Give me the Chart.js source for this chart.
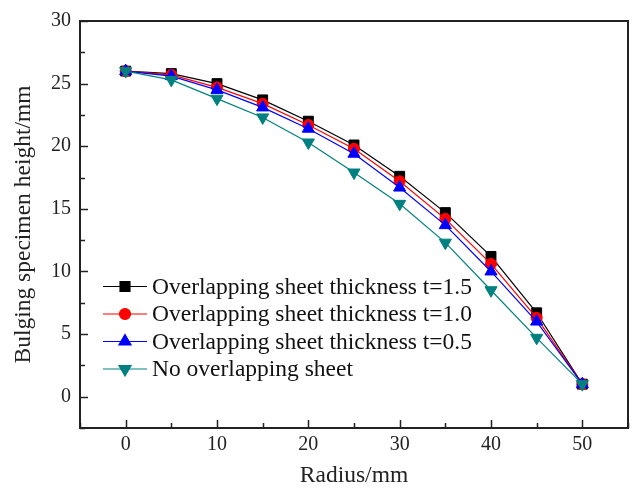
<!DOCTYPE html>
<html>
<head>
<meta charset="utf-8">
<script src="https://cdn.jsdelivr.net/npm/chart.js@4/dist/chart.umd.min.js"></script>
<style>
  html, body { margin: 0; padding: 0; background: #fff; }
  #wrap { width: 633px; height: 490px; }
</style>
</head>
<body>
<div id="wrap"><canvas id="bulgeChart" width="633" height="490"></canvas></div>
<script>
// Data
const radius = [0, 5, 10, 15, 20, 25, 30, 35, 40, 45, 50];
const heightT15 = [26.0, 25.8, 25.0, 23.7, 22.0, 20.1, 17.6, 14.7, 11.2, 6.7, 1.0];
const heightT10 = [26.0, 25.7, 24.7, 23.4, 21.7, 19.8, 17.2, 14.2, 10.6, 6.3, 1.0];
const heightT05 = [26.0, 25.6, 24.5, 23.1, 21.4, 19.4, 16.7, 13.7, 10.0, 6.0, 1.0];
const heightNone = [26.0, 25.3, 23.8, 22.3, 20.3, 17.9, 15.4, 12.3, 8.5, 4.7, 1.0];

const seriesNames = [
    'Overlapping sheet thickness t=1.5',
    'Overlapping sheet thickness t=1.0',
    'Overlapping sheet thickness t=0.5',
    'No overlapping sheet'
];

const xTicks = [0, 10, 20, 30, 40, 50];
const yTicks = [0, 5, 10, 15, 20, 25, 30];

const serif = "'Liberation Serif', 'Times New Roman', serif";
const axisColor = '#222';

function toPoints(ys) {
    return radius.map((r, i) => ({ x: r, y: ys[i] }));
}

// Marker looks for each series
const styles = [
    { color: '#000000', point: 'rect', radius: 7, rotation: 0, order: 4 },
    { color: '#ff0000', point: 'circle', radius: 5.5, rotation: 0, order: 3 },
    { color: '#0000ff', point: 'triangle', radius: 7, rotation: 0, order: 2 },
    { color: '#008080', point: 'triangle', radius: 7, rotation: 180, order: 1 }
];

const allSeries = [heightT15, heightT10, heightT05, heightNone];

const datasets = allSeries.map((ys, i) => ({
    label: seriesNames[i],
    data: toPoints(ys),
    borderColor: styles[i].color,
    backgroundColor: styles[i].color,
    borderWidth: 1.2,
    pointStyle: styles[i].point,
    pointRadius: styles[i].radius,
    pointRotation: styles[i].rotation,
    pointBorderWidth: 1,
    pointBorderColor: styles[i].color,
    pointBackgroundColor: styles[i].color,
    tension: 0,
    order: styles[i].order
}));

// Frame, inward ticks and the in-plot legend
const framePlugin = {
    id: 'frame',
    afterDraw(chart) {
        const ctx = chart.ctx;
        const area = chart.chartArea;
        const xs = chart.scales.x;
        const ys = chart.scales.y;
        ctx.save();
        ctx.strokeStyle = axisColor;
        ctx.lineWidth = 1.5;
        // inward ticks on bottom axis
        xs.ticks.forEach(t => {
            const px = Math.round(xs.getPixelForValue(t.value)) + 0.5;
            const len = xTicks.includes(t.value) ? 8 : 5;
            ctx.beginPath();
            ctx.moveTo(px, area.bottom);
            ctx.lineTo(px, area.bottom - len);
            ctx.stroke();
        });
        // inward ticks on left axis
        ys.ticks.forEach(t => {
            const py = Math.round(ys.getPixelForValue(t.value)) + 0.5;
            const len = yTicks.includes(t.value) ? 8 : 5;
            ctx.beginPath();
            ctx.moveTo(area.left, py);
            ctx.lineTo(area.left + len, py);
            ctx.stroke();
        });
        // box
        ctx.lineWidth = 2;
        ctx.strokeRect(area.left, area.top, area.right - area.left, area.bottom - area.top);

        // legend
        const lx = area.left + 23;
        const rowY = ys.getPixelForValue(8.8);
        const rowGap = 27.5;
        ctx.font = '23.5px ' + serif;
        ctx.textBaseline = 'middle';
        ctx.textAlign = 'left';
        chart.data.datasets.forEach((ds, i) => {
            const y = rowY + i * rowGap;
            ctx.strokeStyle = ds.borderColor;
            ctx.lineWidth = 1.2;
            ctx.beginPath();
            ctx.moveTo(lx, y);
            ctx.lineTo(lx + 44, y);
            ctx.stroke();
            ctx.fillStyle = ds.borderColor;
            Chart.helpers.drawPoint(ctx, {
                pointStyle: ds.pointStyle,
                radius: ds.pointRadius,
                rotation: ds.pointRotation,
                borderWidth: 1
            }, lx + 22, y);
            ctx.fillStyle = '#111';
            ctx.fillText(ds.label, lx + 49, y + 1);
        });
        ctx.restore();
    }
};

function init() {
    const ctx = document.getElementById('bulgeChart').getContext('2d');
    new Chart(ctx, {
        type: 'line',
        data: { datasets: datasets },
        options: {
            responsive: false,
            animation: false,
            layout: { autoPadding: false, padding: { top: 20, right: 3, left: 0, bottom: 0 } },
            plugins: {
                legend: { display: false },
                tooltip: { enabled: false }
            },
            scales: {
                x: {
                    type: 'linear',
                    min: -5,
                    max: 55,
                    afterFit(scale) { scale.height = 62; },
                    grid: { drawOnChartArea: false, drawTicks: false },
                    border: { display: false },
                    ticks: {
                        stepSize: 5,
                        autoSkip: false,
                        maxRotation: 0,
                        padding: 5,
                        color: axisColor,
                        font: { family: serif, size: 20 },
                        callback: v => xTicks.includes(v) ? String(v) : ''
                    },
                    title: {
                        display: true,
                        text: 'Radius/mm',
                        color: axisColor,
                        font: { family: serif, size: 23.5 },
                        padding: { top: 0, bottom: 0 }
                    }
                },
                y: {
                    min: -2.5,
                    max: 30,
                    afterFit(scale) { scale.width = 80; },
                    grid: { drawOnChartArea: false, drawTicks: false },
                    border: { display: false },
                    ticks: {
                        stepSize: 2.5,
                        autoSkip: false,
                        padding: 9,
                        color: axisColor,
                        font: { family: serif, size: 20 },
                        callback: v => yTicks.includes(v) ? String(v) : ''
                    },
                    title: {
                        display: true,
                        text: 'Bulging specimen height/mm',
                        color: axisColor,
                        font: { family: serif, size: 23.5 },
                        padding: { top: 10, bottom: 0 }
                    }
                }
            }
        },
        plugins: [framePlugin]
    });
}

window.onload = init;
</script>
</body>
</html>
